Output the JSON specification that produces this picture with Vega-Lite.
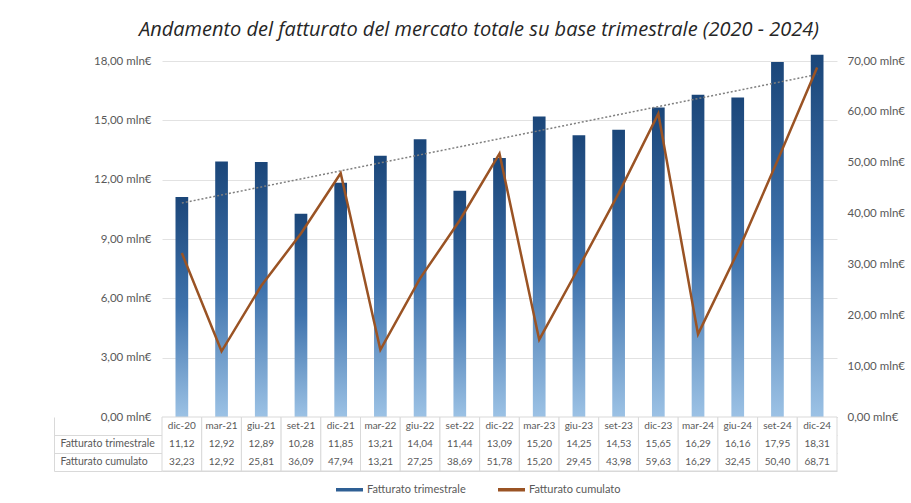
{
  "$schema": "https://vega.github.io/schema/vega-lite/v6.json",
  "background": "white",
  "padding": {"left": 53, "top": 19, "right": 5, "bottom": 2},
  "config": {
    "locale": {"number": {"decimal": ",", "thousands": ".", "grouping": [3], "currency": ["", " €"]}},
    "view": {"stroke": null},
    "font": "Lato",
    "axis": {"labelFont": "Lato", "labelColor": "#595959", "labelFontSize": 11.5},
    "legend": {"labelFont": "Lato", "labelColor": "#595959", "labelFontSize": 11}
  },
  "title": {
    "text": "Andamento del fatturato del mercato totale su base trimestrale (2020 - 2024)",
    "font": "Open Sans", "fontStyle": "italic", "fontSize": 20, "fontWeight": "normal",
    "color": "#262626", "anchor": "middle", "offset": 15
  },
  "datasets": {
    "q": [
      {"period": "dic-20", "i": 0, "trim": 11.12, "cum": 32.23},
      {"period": "mar-21", "i": 1, "trim": 12.92, "cum": 12.92},
      {"period": "giu-21", "i": 2, "trim": 12.89, "cum": 25.81},
      {"period": "set-21", "i": 3, "trim": 10.28, "cum": 36.09},
      {"period": "dic-21", "i": 4, "trim": 11.85, "cum": 47.94},
      {"period": "mar-22", "i": 5, "trim": 13.21, "cum": 13.21},
      {"period": "giu-22", "i": 6, "trim": 14.04, "cum": 27.25},
      {"period": "set-22", "i": 7, "trim": 11.44, "cum": 38.69},
      {"period": "dic-22", "i": 8, "trim": 13.09, "cum": 51.78},
      {"period": "mar-23", "i": 9, "trim": 15.20, "cum": 15.20},
      {"period": "giu-23", "i": 10, "trim": 14.25, "cum": 29.45},
      {"period": "set-23", "i": 11, "trim": 14.53, "cum": 43.98},
      {"period": "dic-23", "i": 12, "trim": 15.65, "cum": 59.63},
      {"period": "mar-24", "i": 13, "trim": 16.29, "cum": 16.29},
      {"period": "giu-24", "i": 14, "trim": 16.16, "cum": 32.45},
      {"period": "set-24", "i": 15, "trim": 17.95, "cum": 50.40},
      {"period": "dic-24", "i": 16, "trim": 18.31, "cum": 68.71}
    ]
  },
  "spacing": 0,
  "bounds": "flush",
  "vconcat": [
    {
      "width": 675,
      "height": 356,
      "data": {"name": "q"},
      "layer": [
        {
          "mark": {
            "type": "bar",
            "color": {
              "gradient": "linear", "x1": 0, "y1": 0, "x2": 0, "y2": 1,
              "stops": [{"offset": 0, "color": "#1b4679"}, {"offset": 0.5, "color": "#3f73ad"}, {"offset": 1, "color": "#9cc2e5"}]
            }
          },
          "encoding": {
            "x": {
              "field": "period", "type": "ordinal", "sort": null,
              "scale": {"paddingInner": 0.68, "paddingOuter": 0.34},
              "axis": {"title": null, "labels": false, "ticks": false, "domainColor": "#d9d9d9"}
            },
            "y": {
              "field": "trim", "type": "quantitative",
              "scale": {"domain": [0, 18]},
              "axis": {
                "title": null, "values": [0, 3, 6, 9, 12, 15, 18], "format": ".2f",
                "labelExpr": "datum.label + ' mln€'", "ticks": false, "domain": false,
                "gridColor": "#e2e2e2", "labelPadding": 11
              }
            }
          }
        },
        {
          "transform": [{"regression": "trim", "on": "i", "extent": [0, 16]}],
          "mark": {"type": "line", "strokeDash": [2, 2], "color": "#7f7f7f", "strokeWidth": 1.5},
          "encoding": {
            "x": {"field": "i", "type": "quantitative", "scale": {"domain": [-0.5, 16.5], "nice": false, "zero": false}, "axis": null},
            "y": {"field": "trim", "type": "quantitative", "scale": {"domain": [0, 18]}, "axis": null}
          }
        },
        {
          "mark": {"type": "line", "strokeWidth": 2.5},
          "encoding": {
            "x": {"field": "period", "type": "ordinal", "sort": null, "axis": null},
            "y": {
              "field": "cum", "type": "quantitative",
              "scale": {"domain": [0, 70]},
              "axis": {
                "orient": "right", "title": null, "values": [0, 10, 20, 30, 40, 50, 60, 70],
                "format": ".2f", "labelExpr": "datum.label + ' mln€'", "grid": false,
                "ticks": false, "domain": false, "labelPadding": 10
              }
            },
            "color": {
              "datum": "Fatturato cumulato", "type": "nominal",
              "scale": {"domain": ["Fatturato trimestrale", "Fatturato cumulato"], "range": ["#2e5f94", "#9a5324"]},
              "legend": {
                "title": null, "orient": "none", "direction": "horizontal",
                "legendX": 172, "legendY": 413,
                "symbolType": "stroke", "symbolStrokeWidth": 3.5, "symbolSize": 729,
                "columnPadding": 25, "labelOffset": 2
              }
            }
          }
        }
      ],
      "resolve": {"scale": {"x": "independent", "y": "independent"}}
    },
    {
      "width": 675,
      "height": 54,
      "data": {"name": "q"},
      "layer": [
        {
          "mark": {"type": "rect", "fill": "white", "stroke": "#d9d9d9", "strokeWidth": 1},
          "encoding": {
            "x": {"field": "period", "type": "ordinal", "sort": null, "scale": {"type": "band", "paddingInner": 0, "paddingOuter": 0}, "axis": null}
          }
        },
        {
          "mark": {"type": "text", "fontSize": 10, "color": "#595959", "font": "Lato"},
          "encoding": {
            "x": {"field": "period", "type": "ordinal", "sort": null},
            "y": {
              "datum": "h", "type": "ordinal",
              "scale": {"type": "band", "domain": ["h", "Fatturato trimestrale", "Fatturato cumulato"], "paddingInner": 0, "paddingOuter": 0},
              "axis": {
                "title": null, "labelExpr": "datum.value == 'h' ? '' : datum.value",
                "bandPosition": 1, "tickSize": -108, "offset": 108,
                "tickColor": "#d9d9d9", "domainColor": "#d9d9d9",
                "labelAlign": "left", "labelPadding": 102,
                "labelFontSize": 10.5, "labelLimit": 110,
                "grid": true, "gridColor": "#d9d9d9"
              }
            },
            "text": {"field": "period"}
          }
        },
        {
          "mark": {"type": "text", "fontSize": 10, "color": "#595959", "font": "Lato"},
          "encoding": {
            "x": {"field": "period", "type": "ordinal", "sort": null},
            "y": {"datum": "Fatturato trimestrale", "type": "ordinal"},
            "text": {"field": "trim", "type": "quantitative", "format": ".2f"}
          }
        },
        {
          "mark": {"type": "text", "fontSize": 10, "color": "#595959", "font": "Lato"},
          "encoding": {
            "x": {"field": "period", "type": "ordinal", "sort": null},
            "y": {"datum": "Fatturato cumulato", "type": "ordinal"},
            "text": {"field": "cum", "type": "quantitative", "format": ".2f"}
          }
        }
      ]
    }
  ]
}
